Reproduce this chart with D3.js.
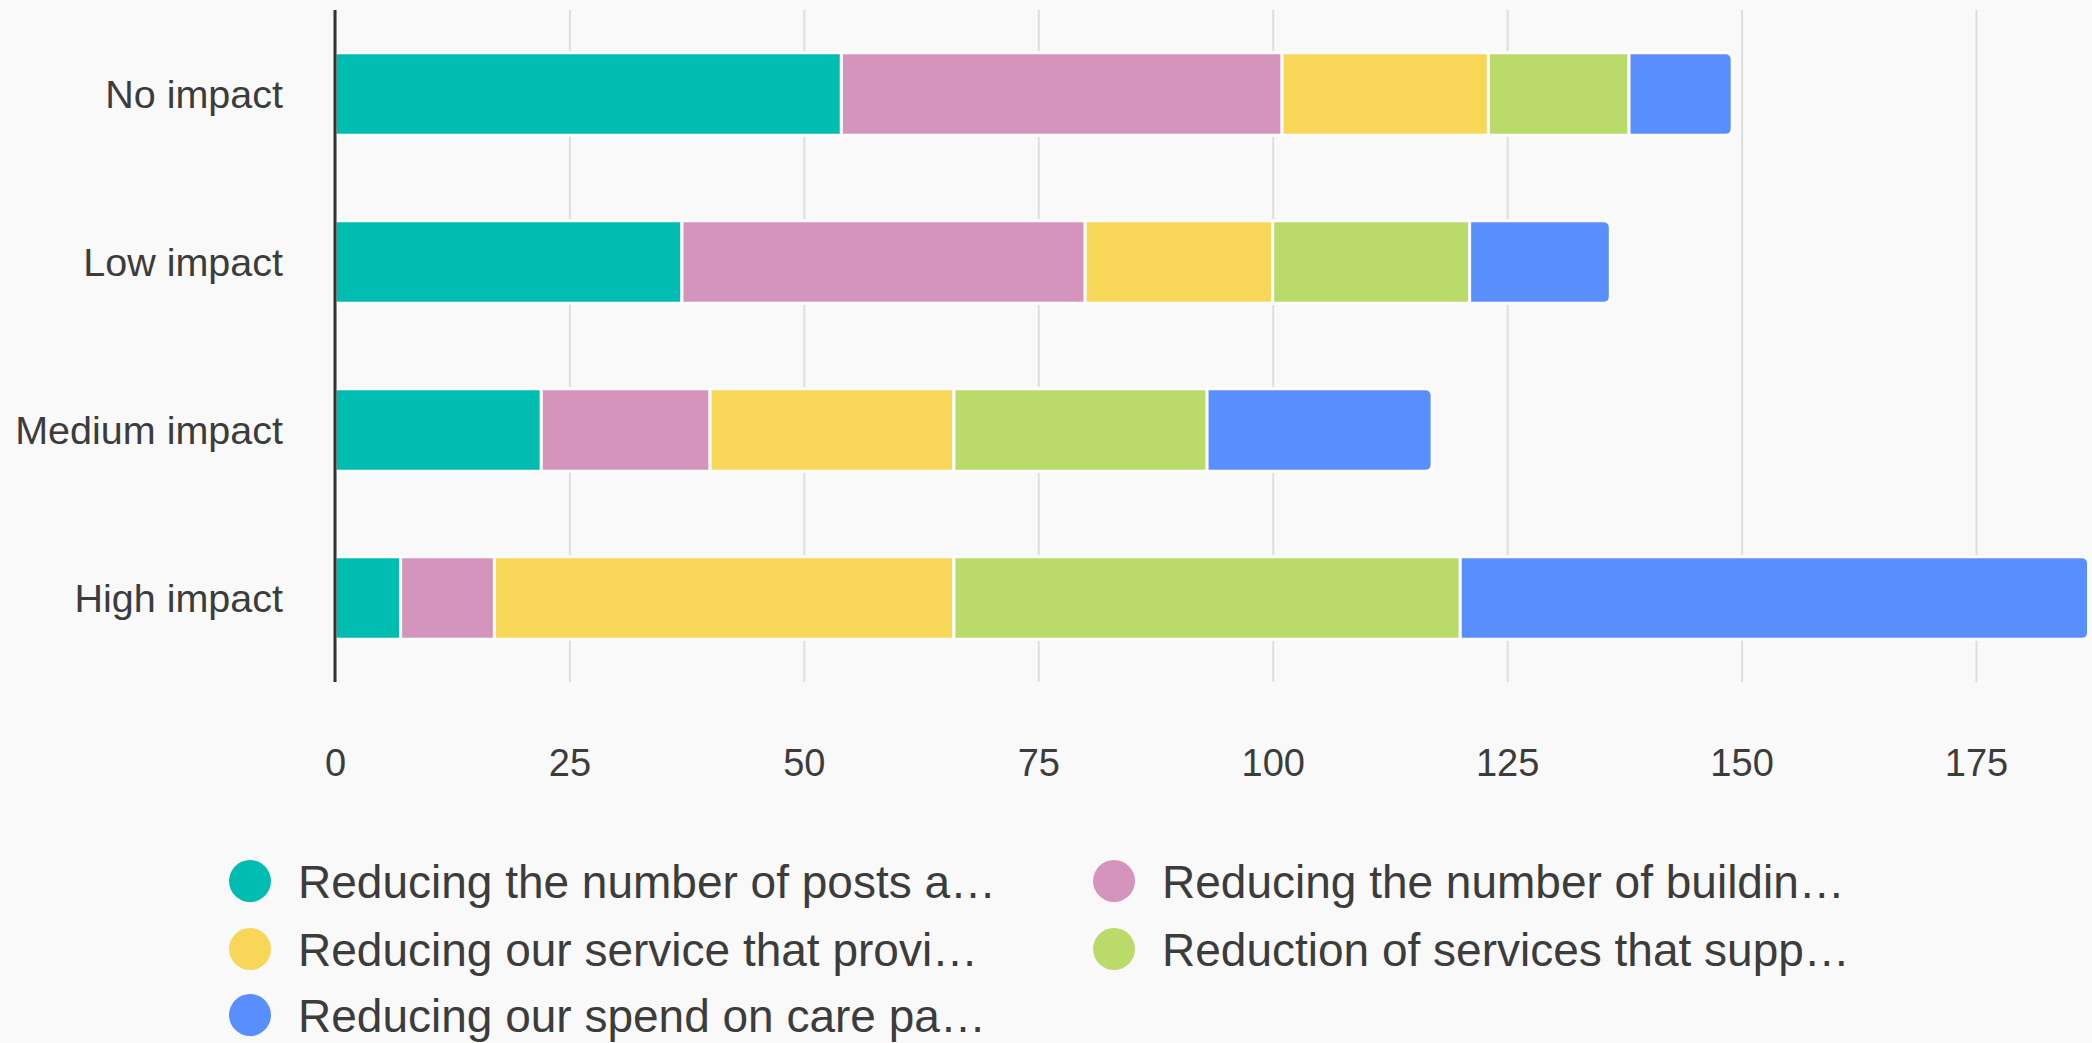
<!DOCTYPE html>
<html>
<head>
<meta charset="utf-8">
<script src="https://d3js.org/d3.v7.min.js"></script>
<style>
  body { margin: 0; background: #f9f9f9; }
  svg { display: block; font-family: "Liberation Sans", Arial, sans-serif; }
</style>
</head>
<body>
<div id="chart"></div>
<script>
// categories (top to bottom) and series
const impacts = ["No impact", "Low impact", "Medium impact", "High impact"];
const seriesNames = [
  "Reducing the number of posts a\u2026",
  "Reducing the number of buildin\u2026",
  "Reducing our service that provi\u2026",
  "Reduction of services that supp\u2026",
  "Reducing our spend on care pa\u2026"
];
const seriesColors = ["#01bcb1", "#d494bc", "#f7d658", "#badb69", "#588efd"];
const postsValues     = [54, 37, 22, 7];
const buildingsValues = [47, 43, 18, 10];
const serviceValues   = [22, 20, 26, 49];
const supportValues   = [15, 21, 27, 54];
const careValues      = [11, 15, 24, 67];
const xTicks = [0, 25, 50, 75, 100, 125, 150, 175];

class StackedBars {
    constructor() {
        this.width = 2092;
        this.height = 1043;
        this.plotTop = 10;
        this.plotBottom = 682;
        this.rows = impacts.map((name, i) => ({
            impact: name,
            s0: postsValues[i], s1: buildingsValues[i], s2: serviceValues[i],
            s3: supportValues[i], s4: careValues[i]
        }));
    }

    draw() {
        var svg = d3.select("#chart").append("svg")
            .attr("width", this.width)
            .attr("height", this.height);

        var x = d3.scaleLinear().domain([0, 175]).range([335, 1976]);
        var y = d3.scaleBand()
            .domain(impacts)
            .range([this.plotTop, this.plotBottom])
            .paddingInner(0.51)
            .paddingOuter(0.255);

        // vertical gridlines
        svg.append("g")
            .attr("transform", "translate(0," + this.plotBottom + ")")
            .call(d3.axisBottom(x).tickValues(xTicks).tickSize(-(this.plotBottom - this.plotTop)).tickFormat(""))
            .call(g => g.select(".domain").remove())
            .selectAll("line")
              .attr("stroke", "#dedede")
              .attr("stroke-width", 2);

        // tick labels
        svg.append("g")
            .attr("transform", "translate(0,763)")
            .call(d3.axisBottom(x).tickValues(xTicks).tickSize(0).tickPadding(0))
            .call(g => g.select(".domain").remove())
            .selectAll("text")
              .attr("dy", "0.35em")
              .attr("y", 0)
              .style("font-size", "38px")
              .style("font-family", "Liberation Sans, Arial, sans-serif")
              .attr("fill", "#3c3c3c");

        // stacked segments
        var keys = ["s0", "s1", "s2", "s3", "s4"];
        var stacked = d3.stack().keys(keys)(this.rows);
        var last = keys.length - 1;

        var roundRight = function(x0, y0, w, h, r) {
            return "M" + x0 + "," + y0 +
                "H" + (x0 + w - r) +
                "Q" + (x0 + w) + "," + y0 + " " + (x0 + w) + "," + (y0 + r) +
                "V" + (y0 + h - r) +
                "Q" + (x0 + w) + "," + (y0 + h) + " " + (x0 + w - r) + "," + (y0 + h) +
                "H" + x0 + "Z";
        };

        svg.append("g").selectAll("g")
            .data(stacked)
            .join("g")
              .attr("fill", (d, i) => seriesColors[i])
            .selectAll("path")
            .data((d, i) => d.map(p => ({ p: p, layer: i })))
            .join("path")
              .attr("d", function(d) {
                  var x0 = x(d.p[0]), w = x(d.p[1]) - x(d.p[0]);
                  var y0 = y(d.p.data.impact), h = y.bandwidth();
                  var r = d.layer === last ? 7 : 0;
                  return roundRight(x0, y0, w, h, r);
              })
              .attr("stroke", "#fdfdfd")
              .attr("stroke-width", 3);

        // y axis line + category labels
        svg.append("line")
            .attr("x1", x(0)).attr("x2", x(0))
            .attr("y1", this.plotTop).attr("y2", this.plotBottom)
            .attr("stroke", "#333")
            .attr("stroke-width", 3);

        svg.append("g").selectAll("text")
            .data(impacts)
            .join("text")
              .attr("x", 283)
              .attr("y", d => y(d) + y.bandwidth() / 2)
              .attr("dy", "0.35em")
              .attr("text-anchor", "end")
              .style("font-size", "39.5px")
              .attr("fill", "#3c3c3c")
              .text(d => d);

        // legend, two columns
        var legendX = [250, 1114];
        var legendY = [881, 949, 1015];
        var items = svg.append("g").selectAll("g")
            .data(seriesNames)
            .join("g")
              .attr("transform", (d, i) => "translate(" + legendX[i % 2] + "," + legendY[Math.floor(i / 2)] + ")");
        items.append("circle")
            .attr("r", 21)
            .attr("fill", (d, i) => seriesColors[i]);
        items.append("text")
            .attr("x", 48)
            .attr("dy", "0.36em")
            .style("font-size", "46px")
            .attr("fill", "#3c3c3c")
            .text(d => d);
    }
}

new StackedBars().draw();
</script>
</body>
</html>
